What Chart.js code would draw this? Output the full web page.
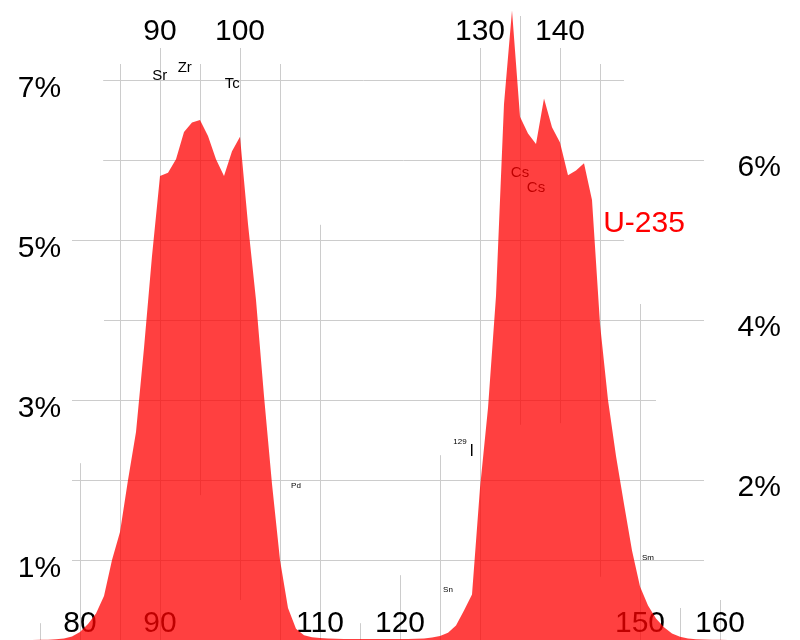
<!DOCTYPE html>
<html>
<head>
<meta charset="utf-8">
<script src="https://cdn.jsdelivr.net/npm/chart.js@4/dist/chart.umd.min.js"></script>
<style>
  html, body { margin: 0; padding: 0; background: #ffffff; }
  #wrap { width: 800px; height: 640px; }
</style>
</head>
<body>
<div id="wrap"><canvas id="c" width="800" height="640"></canvas></div>
<script>
// ---- data (mass number vs. fission yield in %) ----
const massNumbers = [
  74, 75, 76, 77, 78, 79, 80, 81, 82, 83, 84, 85, 86, 87, 88, 89,
  90, 91, 92, 93, 94, 95, 96, 97, 98, 99, 100, 101, 102, 103, 104, 105,
  106, 107, 108, 109, 110, 111, 112, 113, 114, 115, 116, 117, 118, 119, 120, 121,
  122, 123, 124, 125, 126, 127, 128, 129, 130, 131, 132, 133, 134, 135, 136, 137,
  138, 139, 140, 141, 142, 143, 144, 145, 146, 147, 148, 149, 150, 151, 152, 153,
  154, 155, 156, 157, 158, 159, 160, 161, 162, 163
];
const yieldU235 = [
  0.0005, 0.002, 0.004, 0.008, 0.02, 0.045, 0.1, 0.2, 0.33, 0.55, 1.0, 1.35, 2.0, 2.6, 3.65, 4.8,
  5.8, 5.84, 6.01, 6.35, 6.47, 6.5, 6.3, 6.01, 5.8, 6.11, 6.29, 5.2, 4.25, 3.05, 1.95, 1.0,
  0.4, 0.14, 0.06, 0.035, 0.025, 0.02, 0.015, 0.013, 0.012, 0.011, 0.011, 0.011, 0.011, 0.011, 0.012, 0.013,
  0.015, 0.02, 0.03, 0.05, 0.09, 0.18, 0.37, 0.57, 1.9, 2.9, 4.3, 6.7, 7.87, 6.54, 6.33, 6.2,
  6.77, 6.41, 6.22, 5.81, 5.87, 5.96, 5.5, 3.95, 3.0, 2.3, 1.7, 1.12, 0.67, 0.43, 0.27, 0.16,
  0.08, 0.04, 0.02, 0.01, 0.005, 0.003, 0.002, 0.001, 0.0005, 0
];
const seriesName = 'U-235';

// ---- tick labels ----
const leftYTicks = [7, 5, 3, 1];
const rightYTicks = [6, 4, 2];
const topXTicks = [90, 100, 130, 140];
const bottomXTicks = [80, 90, 110, 120, 150, 160];

// ---- element labels ----
const elementLabels = ['Sr', 'Zr', 'Tc', 'Cs', 'Cs', 'Pd', 'Sn', '129', 'I', 'Sm'];
const elementMass   = [89.96, 93.09, 99.04, 135, 137, 107, 126, 127.5, 128.96, 151];
const elementPct    = [7.0, 7.1, 6.9, 5.79, 5.6, 1.9, 0.6, 2.45, 2.3, 1.0];

// ---- layout config (not data) ----
const elementSizes = [15, 15, 15, 15, 15, 8, 8, 8, 16, 8];
const vGrid = [ // [mass, top %, bottom %]
  [75, 0.21, 0], [80, 2.21, 0], [85, 7.2, 0], [90, 7.4, 0], [95, 7.2, 1.81],
  [100, 7.4, 0.5], [105, 7.2, 0], [110, 5.19, 0], [115, 0.21, 0], [120, 0.81, 0],
  [125, 2.31, 0], [130, 7.4, 0], [135, 7.8, 2.69], [140, 7.4, 2.71], [145, 7.2, 0.79],
  [150, 4.2, 0], [155, 0.4, 0], [160, 0.5, 0]
];
const hGrid = [ // [%, left mass, right mass]
  [7, 82.9, 148], [6, 82.9, 158], [5, 79, 148], [4, 83, 158],
  [3, 79, 152], [2, 79, 158], [1, 79, 158]
];
const FONT = '"Liberation Sans", Arial, sans-serif';

const backdrop = {
  id: 'backdrop',
  beforeDatasetsDraw(chart) {
    const ctx = chart.ctx;
    const xs = chart.scales.x, ys = chart.scales.y;
    ctx.save();
    // grid
    ctx.strokeStyle = 'rgb(204,204,204)';
    ctx.lineWidth = 1;
    ctx.beginPath();
    vGrid.forEach(([m, t, b]) => {
      const x = Math.round(xs.getPixelForValue(m)) + 0.5;
      ctx.moveTo(x, ys.getPixelForValue(t));
      ctx.lineTo(x, ys.getPixelForValue(b));
    });
    hGrid.forEach(([p, l, r]) => {
      const y = Math.round(ys.getPixelForValue(p)) + 0.5;
      ctx.moveTo(xs.getPixelForValue(l), y);
      ctx.lineTo(xs.getPixelForValue(r), y);
    });
    ctx.stroke();

    // tick labels
    ctx.fillStyle = '#000';
    ctx.textAlign = 'center';
    ctx.textBaseline = 'alphabetic';
    ctx.font = '30px ' + FONT;
    leftYTicks.forEach(v => ctx.fillText(v + '%', xs.getPixelForValue(74.94), ys.getPixelForValue(v) + 16.5));
    rightYTicks.forEach(v => ctx.fillText(v + '%', xs.getPixelForValue(164.9), ys.getPixelForValue(v) + 16));
    topXTicks.forEach(v => ctx.fillText(String(v), xs.getPixelForValue(v), ys.getPixelForValue(7.5)));
    bottomXTicks.forEach(v => ctx.fillText(String(v), xs.getPixelForValue(v), ys.getPixelForValue(0.1)));

    // element labels
    elementLabels.forEach((t, i) => {
      ctx.font = elementSizes[i] + 'px ' + FONT;
      ctx.fillText(t, xs.getPixelForValue(elementMass[i]), ys.getPixelForValue(elementPct[i]));
    });

    // series label
    ctx.fillStyle = '#ff0000';
    ctx.font = '30px ' + FONT;
    ctx.fillText(seriesName, xs.getPixelForValue(150.5), ys.getPixelForValue(5.1));
    ctx.restore();
  }
};

new Chart(document.getElementById('c'), {
  type: 'line',
  data: {
    datasets: [{
      label: seriesName,
      data: massNumbers.map((m, i) => ({ x: m, y: yieldU235[i] })),
      fill: 'origin',
      backgroundColor: 'rgba(255,0,0,0.75)',
      borderWidth: 0,
      borderColor: 'rgba(0,0,0,0)',
      pointRadius: 0,
      tension: 0
    }]
  },
  options: {
    responsive: false,
    maintainAspectRatio: false,
    animation: false,
    devicePixelRatio: 1,
    layout: { padding: 0 },
    plugins: { legend: { display: false }, tooltip: { enabled: false } },
    scales: {
      x: { type: 'linear', min: 70, max: 170, display: false },
      y: { type: 'linear', min: 0, max: 8, display: false }
    }
  },
  plugins: [backdrop]
});
</script>
</body>
</html>
